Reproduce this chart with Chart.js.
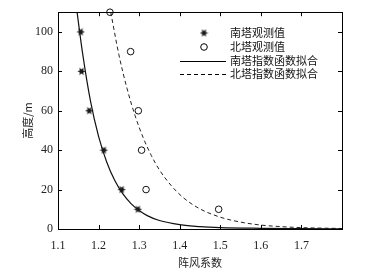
<!DOCTYPE html>
<html>
<head>
<meta charset="utf-8">
<script src="https://cdn.jsdelivr.net/npm/chart.js@4.4.0/dist/chart.umd.min.js"></script>
<style>
  html, body { margin: 0; padding: 0; background: #fff; }
  #wrap { width: 365px; height: 279px; }
</style>
</head>
<body>
<div id="wrap"><canvas id="gust" width="365" height="279"></canvas></div>
<script>
// observed values (gust factor vs height)
const southObsX = [1.156, 1.158, 1.177, 1.213, 1.257, 1.297];
const southObsY = [100, 80, 60, 40, 20, 10];
const northObsX = [1.228, 1.279, 1.298, 1.306, 1.317, 1.496];
const northObsY = [110, 90, 60, 40, 20, 10];

// fitted exponential curves
const southFitX = [1.147, 1.160, 1.180, 1.200, 1.220, 1.240, 1.260, 1.280, 1.300, 1.320, 1.350, 1.400, 1.450, 1.500, 1.600, 1.700, 1.800];
const southFitY = [110, 90, 65, 47, 34, 24.6, 17.8, 12.9, 9.4, 6.8, 4.3, 2.2, 1.2, 0.7, 0.35, 0.2, 0.1];
const northFitX = [1.230, 1.250, 1.270, 1.290, 1.310, 1.330, 1.350, 1.380, 1.410, 1.450, 1.500, 1.550, 1.600, 1.650, 1.700, 1.800];
const northFitY = [110, 88.5, 71.4, 57.5, 46.3, 37.3, 30, 21.8, 15.7, 10.2, 6.0, 3.5, 2.0, 1.2, 0.7, 0.25];

const legendLabels = ['南塔观测值', '北塔观测值', '南塔指数函数拟合', '北塔指数函数拟合'];
const xTicks = [1.1, 1.2, 1.3, 1.4, 1.5, 1.6, 1.7];

function pts(xs, ys) {
    return xs.map((x, i) => ({ x: x, y: ys[i] }));
}

// filled six point star marker
function makeStar() {
    const c = document.createElement('canvas');
    c.width = 9; c.height = 9;
    const g = c.getContext('2d');
    g.fillStyle = '#1a1a1a';
    g.beginPath();
    for (let i = 0; i < 12; i++) {
        const r = i % 2 === 0 ? 4.2 : 2.0;
        const a = Math.PI / 6 * i;
        const px = 4.5 + r * Math.cos(a), py = 4.5 + r * Math.sin(a);
        if (i === 0) g.moveTo(px, py); else g.lineTo(px, py);
    }
    g.closePath();
    g.fill();
    return c;
}
const starImg = makeStar();

// box, inward ticks on all sides, and the legend
const framePlugin = {
    id: 'frame',
    afterDraw(chart) {
        const ctx = chart.ctx;
        const a = chart.chartArea;
        const xs = chart.scales.x, ys = chart.scales.y;
        ctx.save();
        ctx.strokeStyle = '#000';
        ctx.lineWidth = 1;
        ctx.strokeRect(Math.round(a.left) + 0.5, Math.round(a.top) + 0.5,
                       Math.round(a.right - a.left), Math.round(a.bottom - a.top));
        ctx.beginPath();
        xs.ticks.forEach(t => {
            const px = Math.round(xs.getPixelForValue(t.value)) + 0.5;
            ctx.moveTo(px, a.bottom); ctx.lineTo(px, a.bottom - 4);
            ctx.moveTo(px, a.top); ctx.lineTo(px, a.top + 4);
        });
        ys.ticks.forEach(t => {
            const py = Math.round(ys.getPixelForValue(t.value)) + 0.5;
            ctx.moveTo(a.left, py); ctx.lineTo(a.left + 4, py);
            ctx.moveTo(a.right, py); ctx.lineTo(a.right - 4, py);
        });
        ctx.stroke();

        // legend
        const rowY = [33, 47, 61, 74];
        ctx.font = '11px "Noto Sans CJK SC"';
        ctx.fillStyle = '#111';
        ctx.textBaseline = 'middle';
        legendLabels.forEach((lab, i) => ctx.fillText(lab, 230, rowY[i]));
        ctx.drawImage(starImg, 204 - 4.5, rowY[0] - 4.5);
        ctx.beginPath();
        ctx.arc(204, rowY[1], 3.3, 0, Math.PI * 2);
        ctx.stroke();
        ctx.lineWidth = 1.1;
        ctx.beginPath();
        ctx.moveTo(180, rowY[2] + 0.5); ctx.lineTo(226, rowY[2] + 0.5);
        ctx.stroke();
        ctx.setLineDash([4, 3]);
        ctx.beginPath();
        ctx.moveTo(180, rowY[3] + 0.5); ctx.lineTo(226, rowY[3] + 0.5);
        ctx.stroke();
        ctx.restore();
    }
};

const ctx = document.getElementById('gust').getContext('2d');
new Chart(ctx, {
    type: 'scatter',
    data: {
        datasets: [
            {
                label: legendLabels[0],
                data: pts(southObsX, southObsY),
                pointStyle: starImg,
                pointRadius: 4
            },
            {
                label: legendLabels[1],
                data: pts(northObsX, northObsY),
                pointStyle: 'circle',
                pointRadius: 3.3,
                borderColor: '#111',
                borderWidth: 1,
                backgroundColor: 'rgba(0,0,0,0)',
                clip: false
            },
            {
                label: legendLabels[2],
                data: pts(southFitX, southFitY),
                showLine: true,
                pointRadius: 0,
                borderColor: '#111',
                borderWidth: 1.2,
                cubicInterpolationMode: 'monotone'
            },
            {
                label: legendLabels[3],
                data: pts(northFitX, northFitY),
                showLine: true,
                pointRadius: 0,
                borderColor: '#222',
                borderWidth: 1,
                borderDash: [4, 3],
                cubicInterpolationMode: 'monotone'
            }
        ]
    },
    options: {
        responsive: false,
        animation: false,
        layout: { padding: { top: 9, right: 23, left: 0, bottom: 0 } },
        plugins: { legend: { display: false }, tooltip: { enabled: false } },
        scales: {
            x: {
                type: 'linear',
                min: 1.1,
                max: 1.8,
                afterFit(s) { s.height = 50; },
                afterBuildTicks(s) { s.ticks = xTicks.concat([1.8]).map(v => ({ value: v })); },
                grid: { display: false, drawTicks: false },
                border: { display: false },
                ticks: {
                    padding: 10,
                    color: '#222',
                    font: { family: 'Liberation Serif', size: 12 },
                    callback: v => (v > 1.75 ? '' : v.toFixed(1))
                },
                title: {
                    display: true,
                    text: '阵风系数',
                    color: '#222',
                    font: { family: '"Noto Sans CJK SC"', size: 11 },
                    padding: { top: 0, bottom: 10 }
                }
            },
            y: {
                min: 0,
                max: 110,
                afterFit(s) { s.width = 58; },
                grid: { display: false, drawTicks: false },
                border: { display: false },
                ticks: {
                    stepSize: 20,
                    includeBounds: false,
                    padding: 5,
                    color: '#222',
                    font: { family: 'Liberation Serif', size: 12 }
                },
                title: {
                    display: true,
                    text: '高度/m',
                    color: '#222',
                    font: { family: '"Noto Sans CJK SC"', size: 11 },
                    padding: { top: 21, bottom: 0 }
                }
            }
        }
    },
    plugins: [framePlugin]
});
</script>
</body>
</html>
